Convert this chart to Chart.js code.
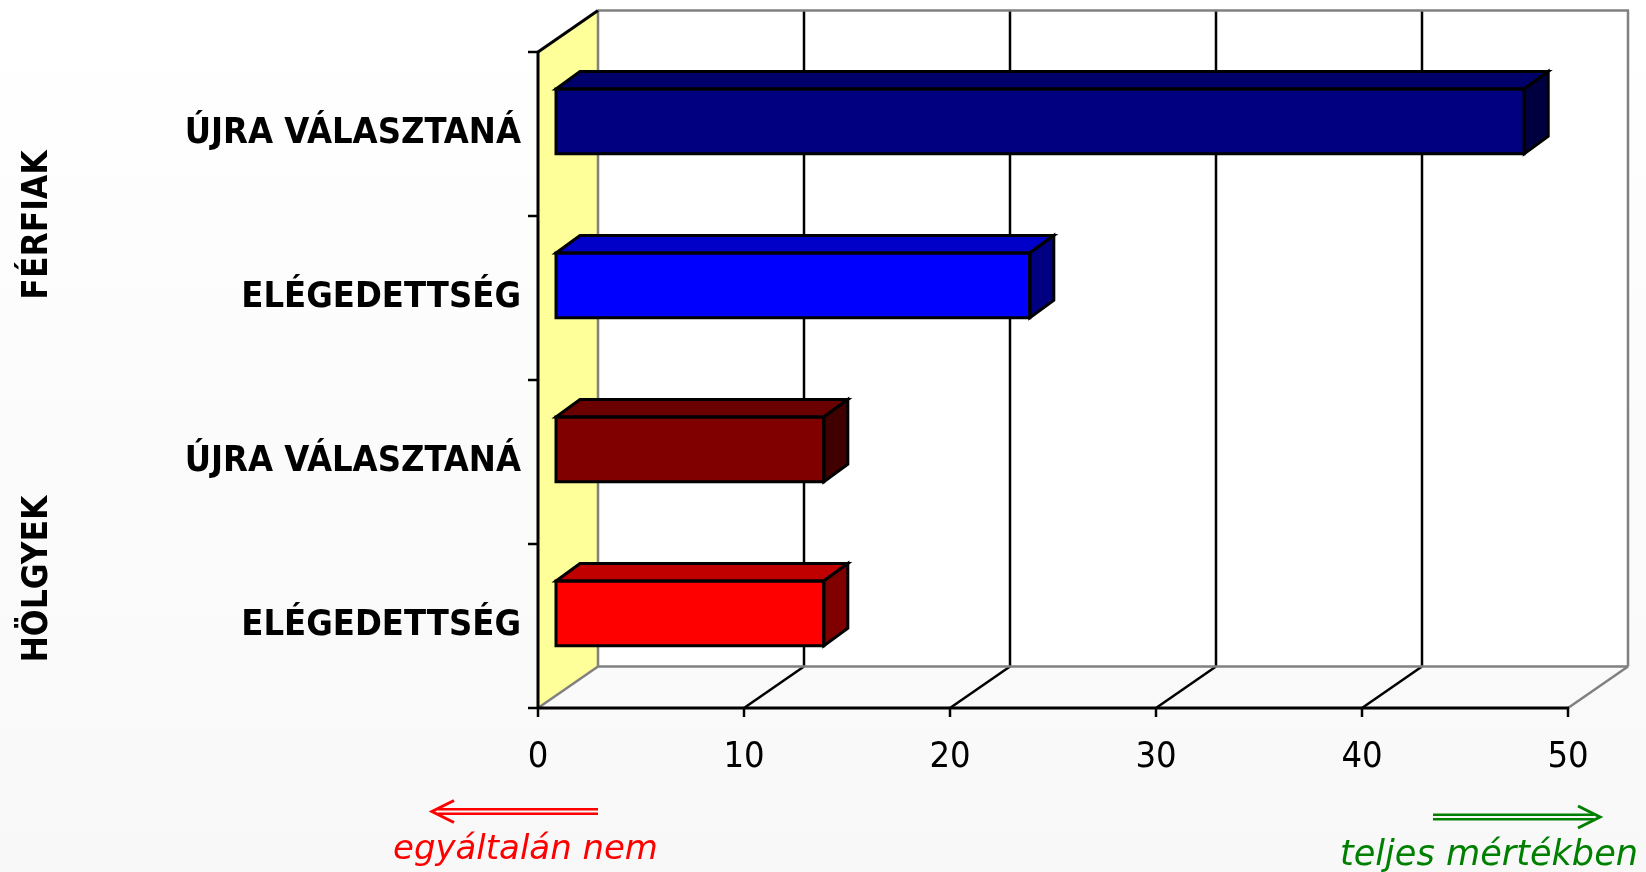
<!DOCTYPE html>
<html><head><meta charset="utf-8">
<script src="https://cdn.jsdelivr.net/npm/chart.js@4.4.1/dist/chart.umd.min.js"></script>
<style>html,body{margin:0;padding:0;background:#fff;overflow:hidden}#wrap{width:1646px;height:872px;position:relative}</style>
</head><body><div id="wrap"><canvas id="c"></canvas></div>
<script>
// ---- data ----
const groups = ['FÉRFIAK', 'HÖLGYEK'];
const groupMembers = [[0, 1], [2, 3]];
const categories = ['ÚJRA VÁLASZTANÁ', 'ELÉGEDETTSÉG', 'ÚJRA VÁLASZTANÁ', 'ELÉGEDETTSÉG'];
const values = [47, 23, 13, 13];
const xTicks = [0, 10, 20, 30, 40, 50];
const leftNote = 'egyáltalán nem';
const rightNote = 'teljes mértékben';

// ---- styles ----
const FONT = '"DejaVu Sans Condensed", "DejaVu Sans", sans-serif';
const NOTEFONT = '"DejaVu Sans", sans-serif';
const faceColors = ['#000080', '#0000FF', '#800000', '#FF0000'];
const topColors  = ['#00006B', '#0000C8', '#6B0000', '#C00000'];
const sideColors = ['#000040', '#000080', '#400000', '#800000'];
const WALL = {dx: 60, dy: -41.5};
const BARSHIFT = {dx: 18, dy: -12.6};
const DEPTH = {dx: 24, dy: -17.5};

function line(ctx, x1, y1, x2, y2) { ctx.beginPath(); ctx.moveTo(x1, y1); ctx.lineTo(x2, y2); ctx.stroke(); }
function poly(ctx, pts, fill, stroke, lw) {
  ctx.beginPath(); ctx.moveTo(pts[0][0], pts[0][1]);
  for (let i = 1; i < pts.length; i++) ctx.lineTo(pts[i][0], pts[i][1]);
  ctx.closePath();
  if (fill) { ctx.fillStyle = fill; ctx.fill(); }
  if (stroke) { ctx.strokeStyle = stroke; ctx.lineWidth = lw; ctx.lineJoin = 'miter'; ctx.stroke(); }
}
function fitFont(ctx, style, text, width, family) {
  ctx.font = style + ' 32px ' + family;
  const w = ctx.measureText(text).width;
  ctx.font = style + ' ' + (32 * width / w).toFixed(2) + 'px ' + family;
}

const scene = {
  id: 'scene',
  beforeDraw(chart) {
    const {ctx, chartArea: a, scales: {x}} = chart;
    const L = a.left, R = a.right, T = a.top, B = a.bottom, dx = WALL.dx, dy = WALL.dy;
    ctx.save();
    const g = ctx.createLinearGradient(0, 0, 0, chart.height);
    g.addColorStop(0, '#ffffff'); g.addColorStop(1, '#f8f8f8');
    ctx.fillStyle = g; ctx.fillRect(0, 0, chart.width, chart.height);
    // back wall
    ctx.fillStyle = '#ffffff'; ctx.fillRect(L + dx, T + dy, R - L, B - T);
    // left wall
    poly(ctx, [[L, T], [L + dx, T + dy], [L + dx, B + dy], [L, B]], '#FFFF99');
    ctx.lineCap = 'butt';
    // grid lines on back wall + floor
    ctx.strokeStyle = '#000'; ctx.lineWidth = 2.5;
    xTicks.slice(1, -1).forEach(v => {
      const px = x.getPixelForValue(v);
      line(ctx, px + dx, T + dy, px + dx, B + dy);
      line(ctx, px, B, px + dx, B + dy);
    });
    // gray edges
    ctx.strokeStyle = '#808080'; ctx.lineWidth = 2.5;
    line(ctx, L + dx, T + dy, R + dx + 1, T + dy);
    line(ctx, R + dx, T + dy, R + dx, B + dy);
    line(ctx, L + dx, B + dy, R + dx, B + dy);
    line(ctx, L + dx, T + dy, L + dx, B + dy);
    line(ctx, L, B, L + dx, B + dy);
    line(ctx, R, B, R + dx, B + dy);
    // black front edges / axes
    ctx.strokeStyle = '#000'; ctx.lineWidth = 3;
    line(ctx, L, T, L + dx, T + dy);
    line(ctx, L, T - 1, L, B + 1);
    line(ctx, L - 1, B, R + 1, B);
    ctx.lineWidth = 2.5;
    xTicks.forEach(v => { const px = x.getPixelForValue(v); line(ctx, px, B, px, B + 9); });
    const n = categories.length;
    for (let i = 0; i <= n; i++) { const py = T + (B - T) * i / n; line(ctx, L - 10, py, L, py); }
    ctx.restore();
  },
  beforeDatasetsDraw(chart) {
    chart.ctx.save();
    chart.ctx.translate(BARSHIFT.dx, BARSHIFT.dy);
  },
  afterDatasetsDraw(chart) {
    const ctx = chart.ctx;
    const meta = chart.getDatasetMeta(0);
    meta.data.forEach((el, i) => {
      const p = el.getProps(['x', 'y', 'base', 'height'], true);
      const t = p.y - p.height / 2, b = p.y + p.height / 2;
      const s = Math.min(p.base, p.x), e = Math.max(p.base, p.x);
      poly(ctx, [[s, t], [s + DEPTH.dx, t + DEPTH.dy], [e + DEPTH.dx, t + DEPTH.dy], [e, t]], topColors[i], '#000', 3);
      poly(ctx, [[e, t], [e + DEPTH.dx, t + DEPTH.dy], [e + DEPTH.dx, b + DEPTH.dy], [e, b]], sideColors[i], '#000', 3);
      poly(ctx, [[s, t], [e, t], [e, b], [s, b]], null, '#000', 3);
    });
    ctx.restore();
  },
  afterDraw(chart) {
    const {ctx, chartArea: a, scales: {x, y}} = chart;
    ctx.save();
    // group labels (rotated)
    ctx.fillStyle = '#000';
    ctx.font = 'bold 35px ' + FONT;
    ctx.textAlign = 'center'; ctx.textBaseline = 'alphabetic';
    const offs = [9, 35];
    groups.forEach((gname, gi) => {
      const m = groupMembers[gi];
      const cy = (y.getPixelForValue(m[0]) + y.getPixelForValue(m[m.length - 1])) / 2 + offs[gi];
      ctx.save();
      ctx.translate(47, cy);
      ctx.rotate(-Math.PI / 2);
      ctx.fillText(gname, 0, 0);
      ctx.restore();
    });
    // arrows
    const x0 = x.getPixelForValue(xTicks[0]);
    const xN = x.getPixelForValue(xTicks[xTicks.length - 1]);
    function dblArrow(xFrom, xTo, yc, color) {
      ctx.strokeStyle = color; ctx.fillStyle = color; ctx.lineWidth = 2.6;
      const dir = Math.sign(xTo - xFrom);
      line(ctx, xFrom, yc - 2.3, xTo - dir * 6, yc - 2.3);
      line(ctx, xFrom, yc + 2.3, xTo - dir * 6, yc + 2.3);
      ctx.lineWidth = 3; ctx.lineJoin = 'miter';
      ctx.beginPath();
      ctx.moveTo(xTo - dir * 22, yc - 11);
      ctx.lineTo(xTo, yc);
      ctx.lineTo(xTo - dir * 22, yc + 11);
      ctx.stroke();
    }
    dblArrow(x0 + WALL.dx, x0 - 106, a.bottom + 103.5, '#FF0000');
    dblArrow(xN - 135, xN + 32, a.bottom + 109, '#008000');
    // notes
    ctx.textBaseline = 'alphabetic';
    fitFont(ctx, 'italic', leftNote, 265, NOTEFONT);
    ctx.fillStyle = '#FF0000'; ctx.textAlign = 'left';
    ctx.fillText(leftNote, x0 - 145, a.bottom + 151);
    fitFont(ctx, 'italic', rightNote, 298, NOTEFONT);
    ctx.fillStyle = '#008000'; ctx.textAlign = 'right';
    ctx.fillText(rightNote, xN + 70, a.bottom + 157);
    ctx.restore();
  }
};

new Chart(document.getElementById('c'), {
  type: 'bar',
  data: {
    labels: categories,
    datasets: [{
      data: values,
      backgroundColor: faceColors,
      borderColor: '#000',
      borderWidth: 0,
      categoryPercentage: 1,
      barPercentage: 0.395,
      clip: false
    }]
  },
  options: {
    indexAxis: 'y',
    responsive: true,
    maintainAspectRatio: false,
    animation: false,
    events: [],
    layout: {padding: {top: 52, right: 78, bottom: 0, left: 0}},
    plugins: {legend: {display: false}, tooltip: {enabled: false}},
    scales: {
      x: {
        type: 'linear', position: 'bottom', min: 0, max: 50,
        afterBuildTicks(s) { s.ticks = xTicks.map(v => ({value: v})); },
        afterFit(s) { s.height = 164; },
        grid: {display: false}, border: {display: false},
        ticks: {color: '#000', padding: 20, font: {family: FONT, size: 36}}
      },
      y: {
        type: 'category', position: 'left',
        afterFit(s) { s.width = 538; },
        grid: {display: false}, border: {display: false},
        ticks: {color: '#000', padding: 9, labelOffset: 0, autoSkip: false,
                font: {family: FONT, size: 36, weight: 'bold'}}
      }
    }
  },
  plugins: [scene]
});
</script>
</body></html>
